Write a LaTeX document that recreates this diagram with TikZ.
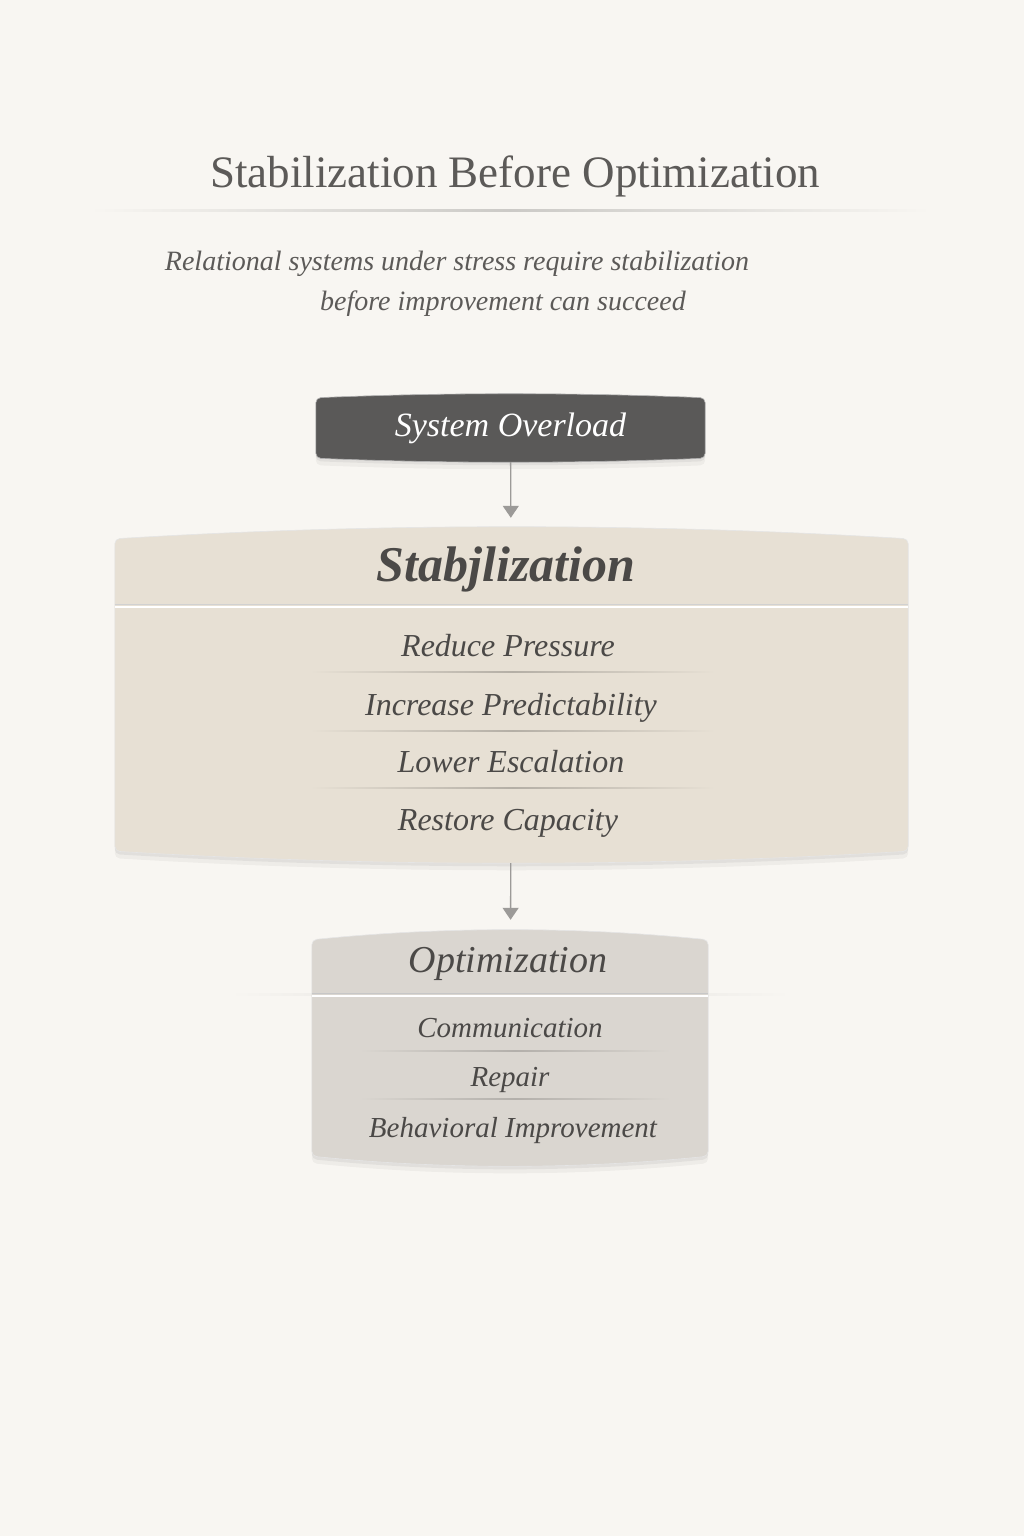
\documentclass[tikz,border=0pt]{standalone}
\usepackage{fontspec}
\setmainfont{Liberation Serif}
\usetikzlibrary{calc,shadows,backgrounds,arrows.meta}

\definecolor{paper}{HTML}{F8F6F2}
\definecolor{ink}{HTML}{4B4947}
\definecolor{inklight}{HTML}{5C5A58}
\definecolor{slate}{HTML}{5A5958}
\definecolor{sand}{HTML}{E7E0D4}
\definecolor{stone}{HTML}{DAD6D0}
\definecolor{wire}{HTML}{9C9A98}

% curved panel behind a node: node, bulge, style
\newcommand{\barrel}[3]{%
  \path[#3] ([yshift=-#2]#1.north west)
    .. controls ($(#1.north west)!0.333!(#1.north east)+(0,#2/3)$)
    and ($(#1.north west)!0.667!(#1.north east)+(0,#2/3)$) .. ([yshift=-#2]#1.north east)
    -- ([yshift=#2]#1.south east)
    .. controls ($(#1.south east)!0.333!(#1.south west)+(0,-#2/3)$)
    and ($(#1.south east)!0.667!(#1.south west)+(0,-#2/3)$) .. ([yshift=#2]#1.south west)
    -- cycle;}

\begin{document}
\begin{tikzpicture}[x=1pt,y=1pt,
  box/.style={rectangle,inner sep=0pt},
  panel/.style={rounded corners=5pt,draw=black!10,line width=.6pt,
    drop shadow={shadow xshift=0pt,shadow yshift=-3pt,opacity=.05,fill=black},
    drop shadow={shadow xshift=0pt,shadow yshift=-7pt,opacity=.04,fill=black}},
  head/.style={anchor=base,text=ink,font=\fontsize{50}{56}\selectfont\itshape\bfseries},
  stabitem/.style={anchor=base,text=ink,font=\fontsize{32}{36}\selectfont\itshape},
  optitem/.style={anchor=base,text=ink,font=\fontsize{29}{34}\selectfont\itshape},
  flow/.style={-{Triangle[length=12pt,width=16pt]},draw=wire,fill=wire,line width=1.3pt}]

\useasboundingbox (0,0) rectangle (1024,1536);

% title and subtitle
\node[anchor=base,text=inklight,font=\fontsize{45}{52}\selectfont] (title) at (515,1348)
  {Stabilization Before Optimization};
\node[anchor=base,text=inklight,font=\fontsize{28}{32}\selectfont\itshape] (sub_1) at (457,1265)
  {Relational systems under stress require stabilization};
\node[anchor=base,text=inklight,font=\fontsize{28}{32}\selectfont\itshape] (sub_2) at (503,1225)
  {before improvement can succeed};

% boxes
\node[box,minimum width=389,minimum height=68,text=white,
  font=\fontsize{34}{38}\selectfont\itshape] (so) at (510.5,1108) {System Overload};
\node[box,minimum width=793,minimum height=336] (stab) at (511.5,841) {};
\node[box,minimum width=396,minimum height=236] (opt) at (510,488) {};

\node[head] (stab_h) at (506,954) {Stabjlization};
\node[stabitem] (s_1) at (508,879) {Reduce Pressure};
\node[stabitem] (s_2) at (511,820) {Increase Predictability};
\node[stabitem] (s_3) at (511,763) {Lower Escalation};
\node[stabitem] (s_4) at (508,705) {Restore Capacity};

\node[head,font=\fontsize{38}{44}\selectfont\itshape] (opt_h) at (508,563) {Optimization};
\node[optitem] (o_1) at (510,498) {Communication};
\node[optitem] (o_2) at (510,449) {Repair};
\node[optitem] (o_3) at (513,398) {Behavioral Improvement};

\begin{pgfonlayer}{background}
  \fill[paper] (0,0) rectangle (1024,1536);
  \shade[left color=paper,right color=paper,middle color=black!18!paper]
    (90,1324.5) rectangle (930,1326);
  \shade[left color=paper,right color=paper,middle color=black!10!paper]
    (230,540.5) rectangle (790,542);
  \barrel{so}{4}{panel,fill=slate,draw=black!30}
  \barrel{stab}{12}{panel,fill=sand}
  \barrel{opt}{10}{panel,fill=stone}
  % header dividers
  \draw[black!18,line width=1pt] (stab.west |- 0,931) -- (stab.east |- 0,931);
  \draw[white,line width=1.2pt] (stab.west |- 0,929) -- (stab.east |- 0,929);
  \draw[black!22,line width=1pt] (opt.west |- 0,542) -- (opt.east |- 0,542);
  \draw[white,line width=1.2pt] (opt.west |- 0,540) -- (opt.east |- 0,540);
  % item separators
  \foreach \y in {863,804,747}
    \shade[left color=sand,right color=sand,middle color=black!22!sand]
      (310,\y) rectangle (715,\y+1);
  \foreach \y in {484,436}
    \shade[left color=stone,right color=stone,middle color=black!18!stone]
      (360,\y) rectangle (670,\y+1);
\end{pgfonlayer}

\path (so) edge [flow,shorten >=9pt] (stab)
  (stab) edge [flow,shorten >=10pt] (opt);

\end{tikzpicture}
\end{document}
